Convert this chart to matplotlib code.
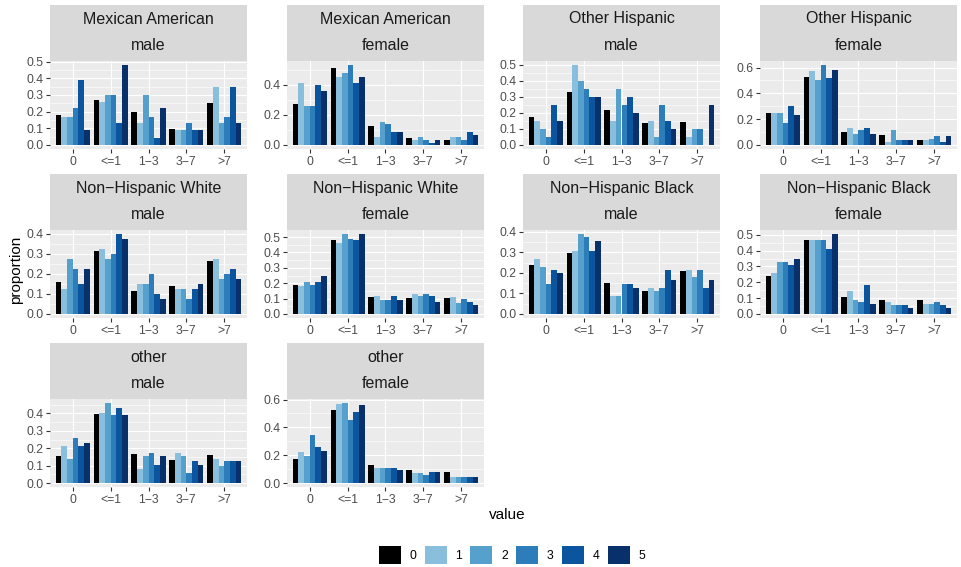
import matplotlib.pyplot as plt
import numpy as np
from matplotlib.patches import Patch

plt.rcParams['font.family'] = ['Liberation Sans', 'DejaVu Sans']

categories = ['0', '<=1', '1\u22123', '3\u22127', '>7']
levels = ['0', '1', '2', '3', '4', '5']
colors = ['#000000', '#8ABEDD', '#56A0CE', '#2D7DBB', '#0B559F', '#08306B']

races = ['Mexican American', 'Mexican American', 'Other Hispanic', 'Other Hispanic',
         'Non\u2212Hispanic White', 'Non\u2212Hispanic White',
         'Non\u2212Hispanic Black', 'Non\u2212Hispanic Black', 'other', 'other']
genders = ['male', 'female'] * 5

# proportions: one row per category, one column per level (0..5)
mex_male = [[0.18, 0.17, 0.17, 0.22, 0.39, 0.09],
            [0.27, 0.26, 0.30, 0.30, 0.13, 0.48],
            [0.20, 0.13, 0.30, 0.17, 0.04, 0.22],
            [0.095, 0.09, 0.09, 0.13, 0.09, 0.09],
            [0.25, 0.35, 0.13, 0.17, 0.35, 0.13]]
mex_female = [[0.27, 0.41, 0.26, 0.26, 0.40, 0.36],
              [0.51, 0.45, 0.48, 0.53, 0.41, 0.45],
              [0.125, 0.05, 0.15, 0.14, 0.085, 0.085],
              [0.045, 0.035, 0.05, 0.035, 0.015, 0.035],
              [0.035, 0.05, 0.05, 0.035, 0.085, 0.065]]
oh_male = [[0.175, 0.15, 0.10, 0.05, 0.25, 0.15],
           [0.33, 0.50, 0.40, 0.35, 0.30, 0.30],
           [0.22, 0.15, 0.35, 0.25, 0.30, 0.20],
           [0.14, 0.15, 0.05, 0.25, 0.15, 0.10],
           [0.145, 0.05, 0.10, 0.10, 0.0, 0.25]]
oh_female = [[0.25, 0.25, 0.25, 0.17, 0.30, 0.23],
             [0.53, 0.57, 0.50, 0.62, 0.52, 0.58],
             [0.10, 0.13, 0.085, 0.115, 0.13, 0.085],
             [0.075, 0.02, 0.115, 0.035, 0.035, 0.035],
             [0.04, 0.035, 0.045, 0.07, 0.02, 0.07]]
nhw_male = [[0.16, 0.125, 0.275, 0.225, 0.15, 0.225],
            [0.315, 0.325, 0.275, 0.30, 0.40, 0.375],
            [0.115, 0.15, 0.15, 0.20, 0.10, 0.075],
            [0.14, 0.125, 0.125, 0.075, 0.125, 0.15],
            [0.265, 0.275, 0.175, 0.20, 0.225, 0.175]]
nhw_female = [[0.19, 0.18, 0.205, 0.19, 0.205, 0.25],
              [0.48, 0.46, 0.52, 0.49, 0.48, 0.52],
              [0.11, 0.12, 0.09, 0.09, 0.12, 0.09],
              [0.105, 0.13, 0.12, 0.13, 0.12, 0.08],
              [0.105, 0.11, 0.07, 0.10, 0.08, 0.06]]
nhb_male = [[0.24, 0.27, 0.23, 0.145, 0.215, 0.20],
            [0.295, 0.305, 0.39, 0.375, 0.305, 0.355],
            [0.15, 0.09, 0.09, 0.145, 0.145, 0.125],
            [0.11, 0.125, 0.11, 0.125, 0.215, 0.165],
            [0.21, 0.215, 0.18, 0.215, 0.125, 0.165]]
nhb_female = [[0.24, 0.26, 0.33, 0.33, 0.31, 0.35],
              [0.465, 0.465, 0.465, 0.47, 0.41, 0.505],
              [0.11, 0.145, 0.09, 0.075, 0.18, 0.06],
              [0.09, 0.075, 0.055, 0.055, 0.055, 0.04],
              [0.09, 0.06, 0.06, 0.075, 0.055, 0.04]]
oth_male = [[0.155, 0.215, 0.14, 0.26, 0.215, 0.23],
            [0.395, 0.40, 0.46, 0.39, 0.43, 0.39],
            [0.165, 0.08, 0.155, 0.17, 0.105, 0.155],
            [0.135, 0.17, 0.155, 0.06, 0.125, 0.105],
            [0.16, 0.14, 0.095, 0.125, 0.125, 0.125]]
oth_female = [[0.175, 0.225, 0.195, 0.345, 0.26, 0.23],
              [0.525, 0.57, 0.575, 0.455, 0.51, 0.56],
              [0.13, 0.105, 0.11, 0.105, 0.11, 0.09],
              [0.09, 0.075, 0.075, 0.06, 0.08, 0.08],
              [0.08, 0.04, 0.045, 0.04, 0.04, 0.04]]

panels = [mex_male, mex_female, oh_male, oh_female, nhw_male,
          nhw_female, nhb_male, nhb_female, oth_male, oth_female]
steps = [0.1, 0.2, 0.1, 0.2, 0.1, 0.1, 0.1, 0.1, 0.1, 0.2]

W, H = 962, 567
fig = plt.figure(figsize=(W / 100, H / 100), dpi=100)

col_left = [50, 287, 523, 760]
row_top = [5, 174, 343]
pw, strip_h, ph = 197, 56, 88


def add_box(x, y, w, h):
    return fig.add_axes([x / W, 1 - (y + h) / H, w / W, h / H])


x = np.arange(len(categories))
bw = 0.9 / len(levels)

for k, vals in enumerate(panels):
    r, c = divmod(k, 4)
    left, top = col_left[c], row_top[r]

    strip = add_box(left, top, pw, strip_h)
    strip.set_facecolor('#D9D9D9')
    strip.set_xticks([])
    strip.set_yticks([])
    for s in strip.spines.values():
        s.set_visible(False)
    strip.text(0.5, 0.75, races[k], ha='center', va='center', fontsize=11.5, color='#1A1A1A')
    strip.text(0.5, 0.27, genders[k], ha='center', va='center', fontsize=11.5, color='#1A1A1A')

    ax = add_box(left, top + strip_h, pw, ph)
    ax.set_facecolor('#EBEBEB')
    vals = np.array(vals)
    for j in range(len(levels)):
        ax.bar(x + (j - 2.5) * bw, vals[:, j], width=bw, color=colors[j], zorder=3)

    vmax = vals.max()
    ax.set_ylim(-0.05 * vmax, 1.05 * vmax)
    ax.set_xlim(-0.6, len(categories) - 0.4)
    step = steps[k]
    major = np.arange(0, vmax * 1.05 + 1e-9, step)
    minor = np.arange(step / 2, vmax * 1.05, step)
    ax.set_yticks(major)
    ax.set_yticks(minor, minor=True)
    ax.set_yticklabels(['%.1f' % t for t in major])
    ax.set_xticks(x)
    ax.set_xticklabels(categories)
    ax.grid(True, which='major', color='white', linewidth=0.8, zorder=0)
    ax.grid(True, which='minor', axis='y', color='white', linewidth=0.4, zorder=0)
    ax.set_axisbelow(True)
    ax.tick_params(which='major', length=2.7, width=0.8, color='#333333',
                   labelsize=8.8, labelcolor='#4D4D4D', pad=2.2)
    ax.tick_params(which='minor', length=0)
    for s in ax.spines.values():
        s.set_visible(False)

fig.text(507 / W, 1 - 515 / H, 'value', ha='center', va='center', fontsize=11, color='black')
fig.text(16 / W, 1 - 270 / H, 'proportion', ha='center', va='center', rotation=90,
         fontsize=11, color='black')

handles = [Patch(facecolor=col, edgecolor='none') for col in colors]
fig.legend(handles, levels, loc='center', bbox_to_anchor=(512 / W, 1 - 555 / H),
           ncol=len(levels), frameon=False, fontsize=8.8, handlelength=1.8,
           handleheight=1.8, handletextpad=0.7, columnspacing=0.7)

fig.savefig('out.png', dpi=100)
